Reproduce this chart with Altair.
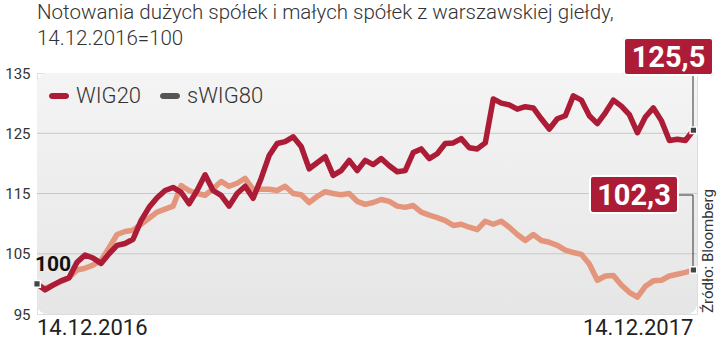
import altair as alt
import pandas as pd

title_lines = ["Notowania dużych spółek i małych spółek z warszawskiej giełdy,", "14.12.2016=100"]
series_names = ["WIG20", "sWIG80"]
start_date = "2016-12-14"
end_date = "2017-12-14"
wig20 = [100.0, 99.0, 99.8, 100.5, 101.0, 103.6, 104.8, 104.3, 103.4, 105.0,
         106.4, 106.7, 107.4, 110.5, 112.7, 114.3, 115.5, 116.0, 115.2, 113.3,
         115.5, 118.1, 115.5, 114.7, 112.9, 115.0, 116.2, 114.2, 117.5, 121.3,
         123.3, 123.6, 124.4, 122.8, 119.1, 120.1, 121.1, 118.0, 118.8, 120.5,
         118.8, 120.5, 119.8, 120.8, 119.6, 118.6, 118.8, 121.8, 122.4, 120.8,
         121.6, 123.3, 123.4, 124.1, 122.6, 122.4, 123.4, 130.7, 130.0, 129.7,
         129.0, 129.4, 129.2, 127.4, 125.7, 127.4, 127.9, 131.2, 130.5, 127.9,
         126.6, 128.4, 130.5, 129.5, 128.1, 125.1, 127.7, 129.2, 127.1, 123.8,
         124.0, 123.8, 125.5]
swig80 = [100.0, 99.2, 99.8, 100.4, 101.0, 102.3, 102.6, 103.1, 103.9, 106.0,
          108.2, 108.7, 108.9, 109.9, 110.9, 111.9, 112.4, 112.9, 116.3, 115.5,
          115.0, 114.7, 115.8, 117.0, 116.2, 116.7, 117.5, 115.7, 115.7, 115.7,
          115.5, 116.2, 115.0, 114.8, 113.5, 114.5, 115.3, 115.0, 114.8, 115.0,
          113.7, 113.2, 113.5, 114.0, 113.7, 112.9, 112.7, 113.0, 111.9, 111.4,
          111.0, 110.5, 109.7, 109.9, 109.4, 109.0, 110.4, 109.9, 110.4, 109.4,
          108.2, 107.2, 108.2, 107.2, 106.9, 106.4, 105.6, 105.2, 104.9, 103.3,
          100.6, 101.3, 101.4, 99.8, 98.6, 97.8, 99.6, 100.5, 100.6, 101.3,
          101.6, 101.9, 102.3]
y_ticks = [95, 105, 115, 125, 135]
grid_values = [105, 115, 125]
end_labels = ["125,5", "102,3"]
start_label = "100"
date_labels = ["14.12.2016", "14.12.2017"]
source_text = "Źródło: Bloomberg"

RED = "#ad1c36"
SALMON = "#e4967d"
LEGEND_GRAY = "#555555"
FONT = "Roboto"
W, H = 660, 241

dates = pd.date_range(start_date, end_date, periods=len(wig20))
df = pd.concat([
    pd.DataFrame({"date": dates, "series": series_names[0], "value": wig20}),
    pd.DataFrame({"date": dates, "series": series_names[1], "value": swig80}),
])
first = pd.DataFrame({"date": [dates[0]], "value": [wig20[0]], "label": [start_label]})
last_w = pd.DataFrame({"date": [dates[-1]], "value": [wig20[-1]], "label": [end_labels[0]]})
last_s = pd.DataFrame({"date": [dates[-1]], "value": [swig80[-1]], "label": [end_labels[1]]})
grid_df = pd.DataFrame({"value": grid_values})
one = pd.DataFrame({"a": [0]})
dl_first = pd.DataFrame({"date": [dates[0]], "label": [date_labels[0]]})
dl_last = pd.DataFrame({"date": [dates[-1]], "label": [date_labels[1]]})

xdef = alt.X("date:T", axis=None,
             scale=alt.Scale(domain=[alt.DateTime(year=2016, month=12, date=14),
                                     alt.DateTime(year=2017, month=12, date=16)]))
yaxis = alt.Axis(values=y_ticks, grid=False, domain=False, ticks=False, labelPadding=7,
                 labelFontSize=15, labelFont=FONT, labelColor="#333333", title=None)
ydef = alt.Y("value:Q", scale=alt.Scale(domain=[95, 135], nice=False, zero=False), axis=yaxis)

bg = alt.Chart(one).mark_rect(
    cornerRadius=10,
    color=alt.LinearGradient(gradient="linear", x1=0, x2=0, y1=0, y2=1,
                             stops=[alt.GradientStop(color="#f4f4f4", offset=0),
                                    alt.GradientStop(color="#e6e6e6", offset=1)])
).encode(x=alt.value(0), x2=alt.value(W), y=alt.value(0), y2=alt.value(H))

grid = alt.Chart(grid_df).mark_rule(color="#c8c8c8", strokeWidth=1).encode(y=ydef)

line_s = alt.Chart(df).transform_filter(alt.datum.series == series_names[1]).mark_line(
    strokeWidth=5.5, strokeJoin="round", strokeCap="round", color=SALMON
).encode(x=xdef, y=ydef)
line_w = alt.Chart(df).transform_filter(alt.datum.series == series_names[0]).mark_line(
    strokeWidth=5.5, strokeJoin="round", strokeCap="round", color=RED
).encode(x=xdef, y=ydef)

pill = "M-0.7,-0.3 L0.7,-0.3 A0.3,0.3 0 0 1 0.7,0.3 L-0.7,0.3 A0.3,0.3 0 0 1 -0.7,-0.3 Z"
legend_layer = alt.Chart(df).transform_filter("false").mark_point(
    filled=True, shape=pill, size=400, opacity=1
).encode(
    color=alt.Color("series:N",
                    scale=alt.Scale(domain=series_names, range=[RED, LEGEND_GRAY]),
                    legend=alt.Legend(orient="none", legendX=11, legendY=12, direction="horizontal",
                                      title=None, labelFontSize=22, labelFont=FONT,
                                      labelFontWeight=300, labelColor="#333333",
                                      symbolType=pill, symbolSize=400, symbolStrokeWidth=0,
                                      columnPadding=17, labelOffset=6, symbolOpacity=1))
)

conn_w = alt.Chart(last_w).mark_rule(color="#333333", strokeWidth=1).encode(
    x=alt.value(656), y=ydef, y2=alt.value(2))
conn_s_h = alt.Chart(one).mark_rule(color="#333333", strokeWidth=1).encode(
    x=alt.value(641), x2=alt.value(656), y=alt.value(122))
conn_s_v = alt.Chart(last_s).mark_rule(color="#333333", strokeWidth=1).encode(
    x=alt.value(656), y=ydef, y2=alt.value(122))

markers = alt.Chart(pd.concat([first, last_w, last_s])).mark_point(
    shape="square", filled=True, size=45, color="#444444", stroke="white",
    strokeWidth=1.5, opacity=1
).encode(x=xdef, y=ydef)

def box(data, x0, x1, y0, y1, tx, ty):
    outer = alt.Chart(data).mark_rect(cornerRadius=4, color="#9a9a9a").encode(
        x=alt.value(x0 - 1), x2=alt.value(x1 + 1), y=alt.value(y0 - 1), y2=alt.value(y1 + 1))
    inner = alt.Chart(data).mark_rect(cornerRadius=3, color=RED, stroke="white",
                                      strokeWidth=2).encode(
        x=alt.value(x0), x2=alt.value(x1), y=alt.value(y0), y2=alt.value(y1))
    txt = alt.Chart(data).mark_text(font=FONT, fontSize=29, fontWeight="bold", color="white",
                                    align="center", baseline="middle").encode(
        x=alt.value(tx), y=alt.value(ty), text="label:N")
    return outer + inner + txt

box_w = box(last_w, 587, 676, -35, 2, 631.5, -15.5)
box_s = box(last_s, 553, 641, 103, 140, 597, 122.5)

start_txt = alt.Chart(first).mark_text(font=FONT, fontSize=21, fontWeight="bold", color="#111111",
                                       align="left", baseline="middle", dx=-2, dy=-19).encode(
    x=xdef, y=ydef, text="label:N")

d1 = alt.Chart(dl_first).mark_text(font=FONT, fontSize=22, fontWeight=400, color="#222222",
                                   align="left", baseline="alphabetic", dx=0).encode(
    x=xdef, y=alt.value(H + 21), text="label:N")
d2 = alt.Chart(dl_last).mark_text(font=FONT, fontSize=22, fontWeight=400, color="#222222",
                                  align="right", baseline="alphabetic", dx=0).encode(
    x=xdef, y=alt.value(H + 21), text="label:N")

src = alt.Chart(pd.DataFrame({"label": [source_text]})).mark_text(
    font=FONT, fontSize=15, color="#333333", angle=270, align="left", baseline="middle"
).encode(x=alt.value(671), y=alt.value(H - 1), text="label:N")

chart = alt.layer(
    bg, grid, line_s, line_w, legend_layer, conn_w, conn_s_h, conn_s_v, markers,
    box_w, box_s, start_txt, d1, d2, src
).properties(
    width=W, height=H,
    title=alt.TitleParams(title_lines, anchor="start", frame="group", fontSize=20.5, font=FONT,
                          fontWeight=300, color="#333333", lineHeight=26, offset=-12),
    autosize=alt.AutoSizeParams(type="none"),
    padding={"left": 37, "top": 73, "right": 23, "bottom": 26},
).configure_view(stroke=None).configure(background="white")

chart.save("out.html", embed_options={"renderer": "svg", "actions": False})
